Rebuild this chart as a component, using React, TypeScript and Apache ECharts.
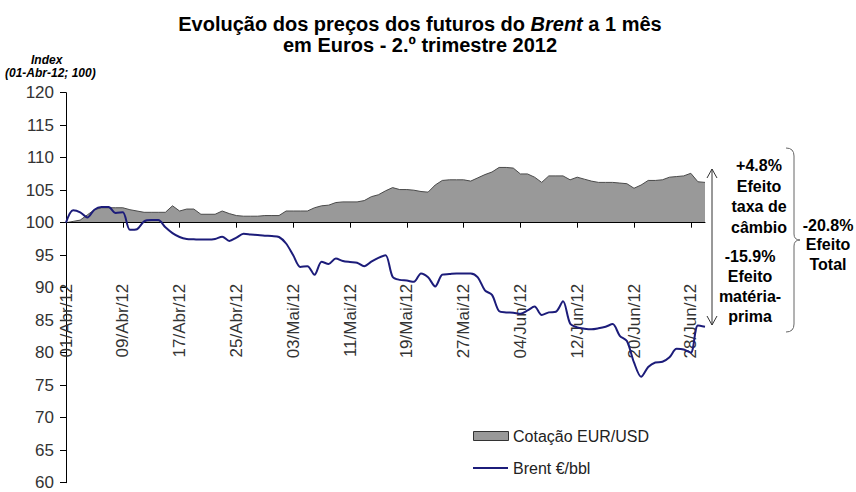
import React, { useEffect, useRef } from "react";
import * as echarts from "echarts";

// ---- data (index, 01-Abr-12 = 100), one value per calendar day 01/Abr .. 30/Jun ----
const MONTHS: [string, number][] = [
  ["Abr", 30],
  ["Mai", 31],
  ["Jun", 30],
];

const eurUsd = [
  100, 100.2, 100.4, 101.2, 102.0, 102.3, 102.3, 102.3, 102.3, 102.0,
  101.8, 101.6, 101.6, 101.6, 101.6, 102.6, 101.8, 102.1, 102.1, 101.3,
  101.3, 101.3, 101.8, 101.4, 101.1, 101.0, 101.0, 101.0, 101.1, 101.1,
  101.1, 101.8, 101.8, 101.8, 101.8, 102.3, 102.6, 102.7, 103.1, 103.2,
  103.2, 103.2, 103.4, 104.0, 104.3, 104.9, 105.4, 105.1, 105.1, 105.0,
  104.8, 104.7, 105.8, 106.5, 106.6, 106.6, 106.6, 106.4, 106.9, 107.4,
  107.8, 108.5, 108.5, 108.4, 107.5, 107.5, 107.0, 106.2, 107.2, 107.2,
  107.2, 106.6, 107.0, 106.7, 106.4, 106.2, 106.2, 106.2, 106.1, 106.0,
  105.3, 105.8, 106.5, 106.5, 106.6, 107.0, 107.1, 107.2, 107.6, 106.3,
  106.2,
];

const brent = [
  100, 101.9, 101.6, 100.8, 102.0, 102.4, 102.4, 101.5, 101.6, 98.9,
  99.0, 100.2, 100.4, 100.4, 99.3, 98.4, 97.8, 97.5, 97.45, 97.4,
  97.4, 97.5, 97.85, 97.2, 97.7, 98.3, 98.2, 98.1, 98.0, 97.95,
  97.8, 96.8, 95.0, 93.2, 93.3, 92.0, 94.0, 93.65, 94.5, 94.1,
  93.95, 93.85, 93.3, 94.0, 94.6, 95.0, 91.7, 91.2, 91.1, 90.9,
  92.2, 91.6, 90.2, 92.0, 92.1, 92.2, 92.2, 92.2, 91.6, 89.6,
  88.9, 86.4, 86.2, 86.15, 86.0, 86.5, 87.1, 85.8, 86.2, 86.3,
  87.9, 84.5, 83.9, 83.7, 83.6, 83.75, 84.0, 84.4, 82.6, 81.8,
  78.5, 76.3, 77.8, 78.5, 78.6, 79.3, 80.6, 80.5, 80.0, 84.2,
  84.0,
];

const yTicks = { min: 60, max: 120, step: 5, base: 100 };

const seriesNames = ["Cotação EUR/USD", "Brent €/bbl"];

const titleLine1 = ["Evolução dos preços dos futuros do ", "Brent", " a 1 mês"];
const titleLine2 = "em Euros - 2.º trimestre 2012";
const indexLabel = ["Index", "(01-Abr-12; 100)"];
const fxEffect = ["+4.8%", "Efeito", "taxa de", "câmbio"];
const oilEffect = ["-15.9%", "Efeito", "matéria-", "prima"];
const totalEffect = ["-20.8%", "Efeito", "Total"];

function buildCategories(): string[] {
  const out: string[] = [];
  for (const [m, n] of MONTHS) {
    for (let d = 1; d <= n; d++) {
      out.push(`${String(d).padStart(2, "0")}/${m}/12`);
    }
  }
  return out;
}

const FONT = "'Liberation Sans', Arial, Helvetica, sans-serif";
const GRID = { left: 66, right: 151, top: 92.7, bottom: 9.3 };
const H = 492;

export default function App() {
  const ref = useRef<HTMLDivElement>(null);

  useEffect(() => {
    document.body.style.margin = "0";
    if (!ref.current) return;
    const chart = echarts.init(ref.current, undefined, { renderer: "svg" });
    const categories = buildCategories();
    const base = yTicks.base;
    const shift = (arr: number[]) => arr.map((v) => +(v - base).toFixed(3));

    // pixel offset that lifts the category axis from the grid bottom to the 100 level
    const plotH = H - GRID.top - GRID.bottom;
    const baseFrac = (yTicks.max - base) / (yTicks.max - yTicks.min);
    const axisOffset = -(plotH * (1 - baseFrac));

    const textEl = (
      txt: string,
      x: number,
      y: number,
      size: number,
      opts: any = {}
    ) => ({
      type: "text",
      x,
      y,
      z: 10,
      style: {
        text: txt,
        fontFamily: FONT,
        fontSize: size,
        fontWeight: opts.weight || "bold",
        fontStyle: opts.style || "normal",
        fill: opts.color || "#000",
        align: opts.align || "center",
        verticalAlign: "middle",
      },
    });

    const lineStyle = { stroke: "#333", lineWidth: 1, fill: "none" };
    const braceStyle = { stroke: "#666", lineWidth: 1, fill: "none" };

    const option: any = {
      animation: false,
      grid: {
        ...GRID,
        containLabel: false,
        outerBoundsMode: "none",
      },
      xAxis: {
        type: "category",
        data: categories,
        boundaryGap: false,
        position: "bottom",
        offset: axisOffset,
        z: 3,
        axisLine: { onZero: false, lineStyle: { color: "#000", width: 1 } },
        axisTick: {
          interval: 7,
          length: 5,
          lineStyle: { color: "#000" },
        },
        axisLabel: {
          interval: 7,
          rotate: 90,
          margin: 61,
          fontFamily: FONT,
          fontSize: 17,
          color: "#333",
        },
        splitLine: { show: false },
      },
      yAxis: {
        type: "value",
        min: yTicks.min - base,
        max: yTicks.max - base,
        interval: yTicks.step,
        z: 3,
        axisLine: { show: true, lineStyle: { color: "#000", width: 1 } },
        axisTick: { show: true, length: 6, lineStyle: { color: "#000" } },
        axisLabel: {
          margin: 12,
          fontFamily: FONT,
          fontSize: 17,
          color: "#333",
          formatter: (v: number) => String(Math.round(v + base)),
        },
        splitLine: { show: false },
      },
      series: [
        {
          name: seriesNames[0],
          type: "line",
          data: shift(eurUsd),
          symbol: "none",
          showSymbol: false,
          z: 1,
          lineStyle: { color: "#4a4a4a", width: 1 },
          itemStyle: { color: "#999" },
          areaStyle: { color: "#999", opacity: 1, origin: 0 },
        },
        {
          name: seriesNames[1],
          type: "line",
          data: shift(brent),
          symbol: "none",
          showSymbol: false,
          smooth: 0.3,
          z: 4,
          lineStyle: { color: "#1c1c7a", width: 2 },
          itemStyle: { color: "#1c1c7a" },
        },
      ],
      graphic: [
        {
          type: "text",
          x: 420,
          y: 24,
          style: {
            text: `{b|${titleLine1[0]}}{i|${titleLine1[1]}}{b|${titleLine1[2]}}`,
            align: "center",
            verticalAlign: "middle",
            rich: {
              b: { fontFamily: FONT, fontSize: 20, fontWeight: "bold", fill: "#000" },
              i: {
                fontFamily: FONT,
                fontSize: 20,
                fontWeight: "bold",
                fontStyle: "italic",
                fill: "#000",
              },
            },
          },
        },
        textEl(titleLine2, 420, 45, 20),
        textEl(indexLabel[0], 31, 60, 12, { style: "italic", align: "left" }),
        textEl(indexLabel[1], 5, 73, 12, { style: "italic", align: "left" }),
        // legend
        {
          type: "rect",
          shape: { x: 473.5, y: 431.5, width: 35, height: 9 },
          style: { fill: "#999", stroke: "#333", lineWidth: 1 },
        },
        textEl(seriesNames[0], 513, 436, 16, { weight: "normal", align: "left", color: "#222" }),
        {
          type: "line",
          shape: { x1: 473, y1: 468, x2: 508, y2: 468 },
          style: { stroke: "#1c1c7a", lineWidth: 2 },
        },
        textEl(seriesNames[1], 513, 468, 16, { weight: "normal", align: "left", color: "#222" }),
        // double arrow
        { type: "line", shape: { x1: 712, y1: 169, x2: 712, y2: 325 }, style: lineStyle },
        { type: "polyline", shape: { points: [[707, 178], [712, 169], [717, 178]] }, style: lineStyle },
        { type: "polyline", shape: { points: [[707, 316], [712, 325], [717, 316]] }, style: lineStyle },
        // brace
        { type: "bezierCurve", shape: { x1: 786, y1: 148, x2: 794, y2: 156, cpx1: 794, cpy1: 148 }, style: braceStyle },
        { type: "line", shape: { x1: 794, y1: 156, x2: 794, y2: 234 }, style: braceStyle },
        { type: "bezierCurve", shape: { x1: 794, y1: 234, x2: 800, y2: 240, cpx1: 794, cpy1: 240 }, style: braceStyle },
        { type: "bezierCurve", shape: { x1: 800, y1: 240, x2: 794, y2: 246, cpx1: 794, cpy1: 240 }, style: braceStyle },
        { type: "line", shape: { x1: 794, y1: 246, x2: 794, y2: 324 }, style: braceStyle },
        { type: "bezierCurve", shape: { x1: 794, y1: 324, x2: 786, y2: 332, cpx1: 794, cpy1: 332 }, style: braceStyle },
        ...fxEffect.map((t, i) => textEl(t, 759, 165.5 + i * 20.5, 16)),
        ...oilEffect.map((t, i) => textEl(t, 750, 256 + i * 20, 16)),
        ...totalEffect.map((t, i) => textEl(t, 828, 225 + i * 19.5, 16)),
      ],
    };

    chart.setOption(option);
    return () => chart.dispose();
  }, []);

  return <div ref={ref} style={{ width: 856, height: 492 }} />;
}
